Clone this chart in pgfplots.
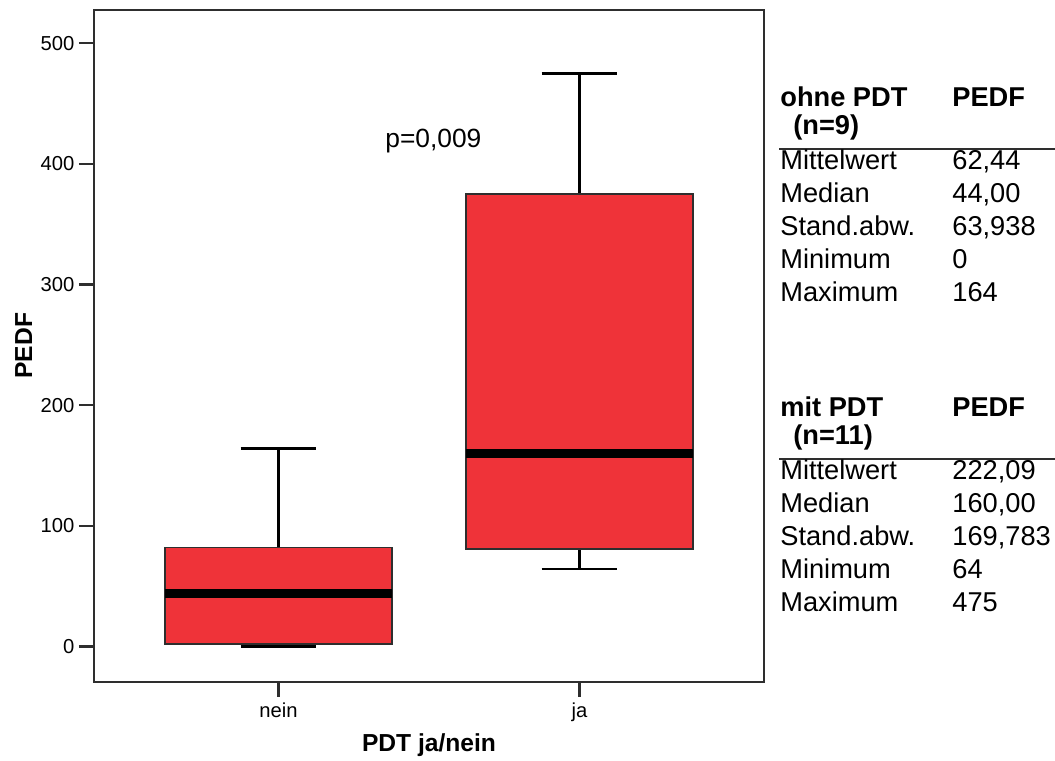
\documentclass[border=0pt]{standalone}
\usepackage{fontspec}
\setmainfont{Liberation Sans}
\usepackage{pgfplots}
\pgfplotsset{compat=1.18}
\definecolor{boxRed}{HTML}{EF3339}
\definecolor{frameG}{HTML}{2E2E2E}

\newcommand{\tabfont}{\fontsize{15.5}{17}\selectfont}

\begin{document}
\begin{tikzpicture}
\path[use as bounding box] (-1.88,-1.586) rectangle (19.22,13.634);
\begin{axis}[
    scale only axis, width=13.4cm, height=13.44cm,
    xmin=0.387, xmax=2.613, ymin=-29.2, ymax=527.8,
    xtick={1,2}, xticklabels={nein,ja},
    ytick={0,100,200,300,400,500},
    yticklabels={0,100,200,300,400,500},
    xtick pos=bottom, ytick pos=left,
    tick align=outside, major tick length=0.3cm,
    tick style={frameG, line width=1.2pt},
    axis line style={frameG, line width=1.3pt},
    ticklabel style={font=\fontsize{11.5}{13}\selectfont},
    yticklabel style={xshift=0.03cm},
    xlabel={PDT ja/nein}, ylabel={PEDF},
    label style={font=\fontsize{14}{16}\selectfont\bfseries},
    xlabel style={at={(axis description cs:0.5,-0.1046)}, anchor=base},
    ylabel style={at={(axis description cs:-0.0925,0.5)}, anchor=base},
    whisk/.style={black, line width=1.4pt},
    boxst/.style={draw=frameG, fill=boxRed, line width=0.9pt},
    med/.style={black, line width=5.2pt},
  ]
  % nein (ohne PDT): min 0, Q1 2, median 44, Q3 82, max 164
  \addplot[whisk] coordinates {(1,82) (1,164)};
  \addplot[whisk] coordinates {(0.874,164) (1.126,164)};
  \addplot[whisk] coordinates {(1,2) (1,0)};
  \addplot[whisk] coordinates {(0.874,0) (1.126,0)};
  \addplot[boxst] coordinates {(0.623,2) (1.377,2) (1.377,82) (0.623,82)} -- cycle;
  \addplot[med] coordinates {(0.623,44) (1.377,44)};
  % ja (mit PDT): min 64, Q1 81, median 160, Q3 375, max 475
  \addplot[whisk] coordinates {(2,375) (2,475)};
  \addplot[whisk] coordinates {(1.874,475) (2.126,475)};
  \addplot[whisk] coordinates {(2,81) (2,64)};
  \addplot[whisk] coordinates {(1.874,64) (2.126,64)};
  \addplot[boxst] coordinates {(1.623,81) (2.377,81) (2.377,375) (1.623,375)} -- cycle;
  \addplot[med] coordinates {(1.623,160) (2.377,160)};
\end{axis}

% p-value
\node[anchor=base west, inner sep=0pt, font=\fontsize{15}{17}\selectfont] at (5.82,10.68) {p=0,009};

% statistics tables
\begin{scope}[every node/.style={anchor=base west, inner sep=0pt, font=\tabfont}]
  \node[font=\tabfont\bfseries] at (13.72,11.50) {ohne PDT};
  \node[font=\tabfont\bfseries] at (17.16,11.50) {PEDF};
  \node[font=\tabfont\bfseries] at (13.98,10.934) {(n=9)};
  \draw[frameG, line width=1.1pt] (13.70,10.66) -- (19.22,10.66);
  \node at (13.72,10.234) {Mittelwert}; \node at (17.16,10.234) {62,44};
  \node at (13.72,9.574) {Median};      \node at (17.16,9.574) {44,00};
  \node at (13.72,8.914) {Stand.abw.};  \node at (17.16,8.914) {63,938};
  \node at (13.72,8.254) {Minimum};     \node at (17.16,8.254) {0};
  \node at (13.72,7.594) {Maximum};     \node at (17.16,7.594) {164};

  \node[font=\tabfont\bfseries] at (13.72,5.30) {mit PDT};
  \node[font=\tabfont\bfseries] at (17.16,5.30) {PEDF};
  \node[font=\tabfont\bfseries] at (13.98,4.734) {(n=11)};
  \draw[frameG, line width=1.1pt] (13.70,4.454) -- (19.22,4.454);
  \node at (13.72,4.034) {Mittelwert}; \node at (17.16,4.034) {222,09};
  \node at (13.72,3.374) {Median};     \node at (17.16,3.374) {160,00};
  \node at (13.72,2.714) {Stand.abw.}; \node at (17.16,2.714) {169,783};
  \node at (13.72,2.054) {Minimum};    \node at (17.16,2.054) {64};
  \node at (13.72,1.394) {Maximum};    \node at (17.16,1.394) {475};
\end{scope}
\end{tikzpicture}
\end{document}
